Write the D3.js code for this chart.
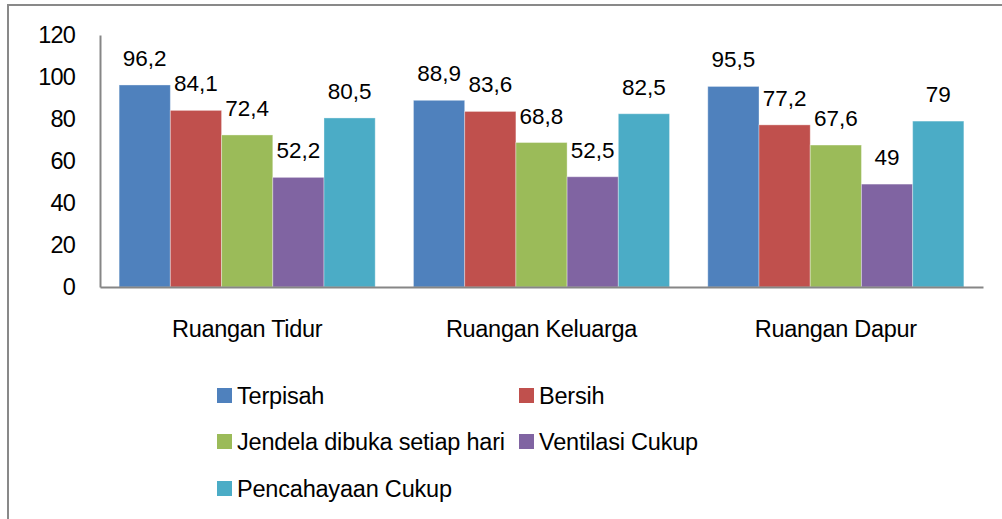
<!DOCTYPE html>
<html>
<head>
<meta charset="utf-8">
<script src="https://cdn.jsdelivr.net/npm/d3@7"></script>
<style>
html,body{margin:0;padding:0;background:#fff;}
svg{display:block;font-family:"Liberation Sans",Arial,sans-serif;}
</style>
</head>
<body>
<svg id="chart" width="1002" height="519"></svg>
<script>
const categories = ["Ruangan Tidur", "Ruangan Keluarga", "Ruangan Dapur"];
const seriesNames = ["Terpisah", "Bersih", "Jendela dibuka setiap hari", "Ventilasi Cukup", "Pencahayaan Cukup"];
const seriesColors = ["#4F81BD", "#C0504D", "#9BBB59", "#8064A2", "#4BACC6"];
const terpisah = [96.2, 88.9, 95.5];
const bersih = [84.1, 83.6, 77.2];
const jendela = [72.4, 68.8, 67.6];
const ventilasi = [52.2, 52.5, 49];
const pencahayaan = [80.5, 82.5, 79];
const yTicks = [0, 20, 40, 60, 80, 100, 120];

const seriesValues = [terpisah, bersih, jendela, ventilasi, pencahayaan];
const svg = d3.select("#chart");

// outer border
svg.append("rect").attr("x", 8).attr("y", 5).attr("width", 1010).attr("height", 530)
  .attr("fill", "none").attr("stroke", "#898989").attr("stroke-width", 2);

const plotLeft = 100, plotRight = 983, plotTop = 35, plotBottom = 287;
const x0 = d3.scaleBand().domain(categories).range([plotLeft, plotRight]).paddingInner(0.13).paddingOuter(0.065);
const x1 = d3.scaleBand().domain(seriesNames).range([0, x0.bandwidth()]);
const y = d3.scaleLinear().domain([0, 120]).range([plotBottom, plotTop]);

// y axis
const yAxis = svg.append("g").attr("transform", `translate(${plotLeft},0)`)
  .call(d3.axisLeft(y).tickValues(yTicks).tickSize(0).tickPadding(25));
yAxis.select(".domain").attr("stroke", "#868686").attr("stroke-width", 2);
yAxis.selectAll("text").attr("font-size", 23.5).attr("fill", "#000")
  .attr("font-family", "Liberation Sans, Arial, sans-serif").attr("letter-spacing", "-0.8px");

// bars
const groups = svg.append("g").selectAll("g").data(categories).join("g")
  .attr("transform", d => `translate(${x0(d)},0)`);

groups.each(function(cat, ci) {
  const g = d3.select(this);
  seriesNames.forEach((s, si) => {
    const v = seriesValues[si][ci];
    g.append("rect")
      .attr("x", x1(s)).attr("y", y(v))
      .attr("width", x1.bandwidth()).attr("height", y(0) - y(v))
      .attr("fill", seriesColors[si])
      .attr("stroke", "rgba(255,255,255,0.35)").attr("stroke-width", 1);
    g.append("text")
      .attr("x", x1(s) + x1.bandwidth() / 2).attr("y", y(v) - 19)
      .attr("text-anchor", "middle").attr("font-size", 22.5).attr("fill", "#000")
      .text(String(v).replace(".", ","));
  });
});

// x axis
const xAxis = svg.append("g").attr("transform", `translate(0,${plotBottom})`)
  .call(d3.axisBottom(x0).tickSize(0).tickPadding(33));
xAxis.select(".domain").attr("stroke", "#868686").attr("stroke-width", 2);
xAxis.selectAll("text").attr("font-size", 23.5).attr("fill", "#000")
  .attr("font-family", "Liberation Sans, Arial, sans-serif").attr("letter-spacing", "-0.3px");

// legend
const legendPos = [[217, 395.5], [519, 395.5], [217, 441.5], [519, 441.5], [217, 488.5]];
const legend = svg.append("g");
seriesNames.forEach((s, i) => {
  const [lx, ly] = legendPos[i];
  legend.append("rect").attr("x", lx).attr("y", ly - 7.5).attr("width", 15).attr("height", 15)
    .attr("fill", seriesColors[i]);
  legend.append("text").attr("x", lx + 20).attr("y", ly).attr("dy", "0.36em")
    .attr("font-size", 23.5).attr("fill", "#000").attr("letter-spacing", "-0.2px").text(s);
});
</script>
</body>
</html>
